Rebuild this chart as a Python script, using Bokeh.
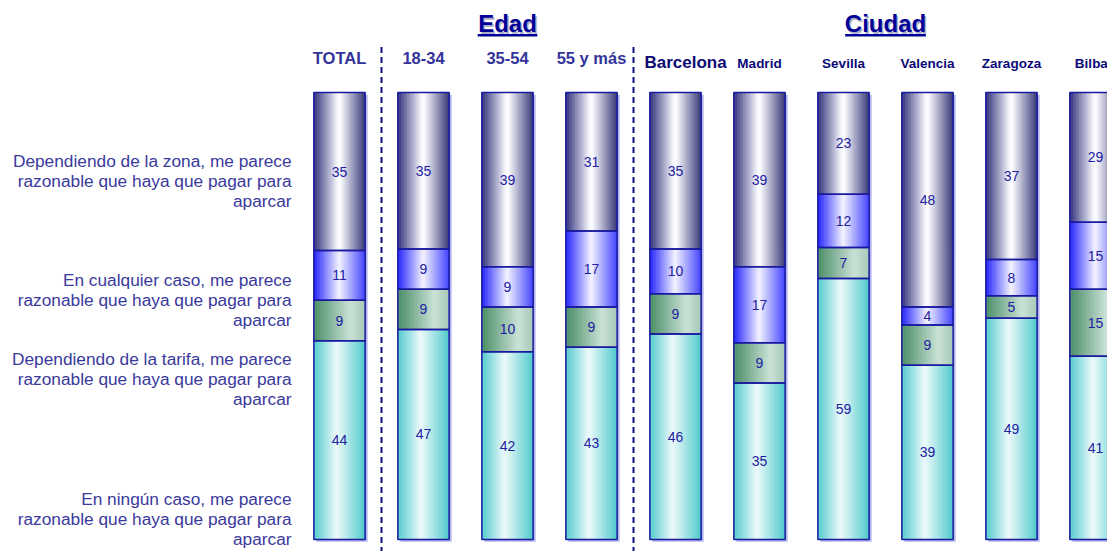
import numpy as np
from bokeh.plotting import figure
from bokeh.models import Range1d
from bokeh.core.properties import value
from bokeh.embed import file_html
from bokeh.resources import INLINE

# ---------------- data ----------------
categories = ["TOTAL", "18-34", "35-54", "55 y más", "Barcelona", "Madrid",
              "Sevilla", "Valencia", "Zaragoza", "Bilbao"]
group_names = ["", "Edad", "Ciudad"]
group_sizes = [1, 3, 6]

# series, bottom to top
ningun = [44, 47, 42, 43, 46, 35, 59, 39, 49, 41]
tarifa = [9, 9, 10, 9, 9, 9, 7, 9, 5, 15]
cualquier = [11, 9, 9, 17, 10, 17, 12, 4, 8, 15]
zona = [35, 35, 39, 31, 35, 39, 23, 48, 37, 29]

series_labels = [
    "En ningún caso, me parece\nrazonable que haya que pagar para\naparcar",
    "Dependiendo de la tarifa, me parece\nrazonable que haya que pagar para\naparcar",
    "En cualquier caso, me parece\nrazonable que haya que pagar para\naparcar",
    "Dependiendo de la zona, me parece\nrazonable que haya que pagar para\naparcar",
]

# ---------------- styles ----------------
gradients = [
    [(0.0, (0x50, 0xcc, 0xcc)), (0.45, (0xf0, 0xfc, 0xfc)), (1.0, (0x50, 0xcc, 0xcc))],
    [(0.0, (0x48, 0x8e, 0x64)), (0.72, (0xcc, 0xe3, 0xd6)), (1.0, (0xa6, 0xcb, 0xb6))],
    [(0.0, (0x20, 0x20, 0xff)), (0.5, (0xf6, 0xf6, 0xff)), (1.0, (0x44, 0x44, 0xff))],
    [(0.0, (0x2c, 0x2c, 0x7a)), (0.47, (0xfc, 0xfc, 0xff)), (0.53, (0xfc, 0xfc, 0xff)), (1.0, (0x3a, 0x3a, 0x78))],
]
label_y = [4.5, 35.8, 53.5, 80.3]   # legend text vertical positions (axis units)
BAR_W = 0.61
NSTRIP = 32
FONT = "Liberation Sans"
W, H = 1107, 551
PX_X = 84.0     # pixels per category
PX_Y = 4.47     # pixels per percent
X0 = -339.0 / PX_X
Y1 = 539.0 / PX_Y


def grad_color(stops, t):
    for (p0, c0), (p1, c1) in zip(stops[:-1], stops[1:]):
        if p0 <= t <= p1:
            f = (t - p0) / (p1 - p0) if p1 > p0 else 0
            c = [int(round(a + (b - a) * f)) for a, b in zip(c0, c1)]
            return "#%02x%02x%02x" % tuple(c)
    return "#%02x%02x%02x" % stops[-1][1]


series = [ningun, tarifa, cualquier, zona]
n = len(categories)
xs = np.arange(n, dtype=float)
totals = np.sum(np.array(series, dtype=float), axis=0)

p = figure(width=W, height=H,
           x_range=Range1d(X0, X0 + W / PX_X), y_range=Range1d(Y1 - H / PX_Y, Y1),
           output_backend="svg", toolbar_location=None, min_border=0,
           x_axis_location=None, y_axis_location=None)
p.grid.visible = False
p.outline_line_color = None
p.background_fill_color = "white"
p.border_fill_color = "white"

# stacking (percent of each column)
bottoms = []
tops = []
cum = np.zeros(n)
for s in series:
    frac = np.array(s, dtype=float) / totals * 100.0
    bottoms.append(cum.copy())
    cum = cum + frac
    tops.append(cum.copy())

# bar shadow
p.quad(left=xs - BAR_W / 2 + 0.03, right=xs + BAR_W / 2 + 0.03,
       bottom=bottoms[0] - 0.5, top=tops[-1] - 0.5,
       fill_color="#b4b4ec", line_color=None)

# gradient strips
L, R, B, T, C = [], [], [], [], []
dw = BAR_W / NSTRIP
for si, s in enumerate(series):
    for k in range(NSTRIP):
        t = (k + 0.5) / NSTRIP
        col = grad_color(gradients[si], t)
        for i in range(n):
            left = xs[i] - BAR_W / 2 + k * dw
            L.append(left)
            R.append(left + dw)
            B.append(bottoms[si][i])
            T.append(tops[si][i])
            C.append(col)
p.quad(left=L, right=R, bottom=B, top=T, fill_color=C, line_color=C, line_width=0.6)

# segment outlines and values
for si, s in enumerate(series):
    p.quad(left=xs - BAR_W / 2, right=xs + BAR_W / 2, bottom=bottoms[si], top=tops[si],
           fill_alpha=0, line_color="#1818a0", line_width=1.5)
    p.text(x=xs, y=(bottoms[si] + tops[si]) / 2, text=[str(v) for v in s],
           text_align="center", text_baseline="middle",
           text_font=value(FONT), text_font_size="14px", text_color="#2222a0")

# legend-like labels on the left
p.text(x=[-0.571] * len(series_labels), y=label_y, text=series_labels,
       text_align="right", text_baseline="middle", text_line_height=1.0,
       text_font=value(FONT), text_font_size="17.3px", text_color="#3a3a9c")

# group separators and titles
bounds = np.cumsum(group_sizes)
sep_x = [b - 0.5 for b in bounds[:-1]]
p.segment(x0=sep_x, x1=sep_x, y0=[-3] * len(sep_x), y1=[110.8] * len(sep_x),
          line_color="#101080", line_width=2, line_dash="6 4")

starts = np.concatenate([[0], bounds[:-1]])
g_names, g_x = [], []
for name, s0, sz in zip(group_names, starts, group_sizes):
    if name:
        g_names.append(name)
        g_x.append(s0 + (sz - 1) / 2)
half_w = [0.355, 0.48]
p.text(x=g_x, y=[115.4] * len(g_x), text=g_names, x_offset=1.5, y_offset=1.5,
       text_align="center", text_baseline="middle", text_font=value(FONT),
       text_font_size="24px", text_font_style="bold", text_color="#b0b0c8")
p.text(x=g_x, y=[115.4] * len(g_x), text=g_names,
       text_align="center", text_baseline="middle", text_font=value(FONT),
       text_font_size="24px", text_font_style="bold", text_color="#000099")
p.segment(x0=[x - h for x, h in zip(g_x, half_w)], x1=[x + h for x, h in zip(g_x, half_w)],
          y0=[112.8] * len(g_x), y1=[112.8] * len(g_x),
          line_color="#000099", line_width=2.5)

# column headers
age_idx = list(range(0, 4))
p.text(x=xs[age_idx], y=[107.8] * len(age_idx), text=[categories[i] for i in age_idx],
       text_align="center", text_baseline="middle", text_font=value(FONT),
       text_font_size="16.5px", text_font_style="bold", text_color="#333399")
p.text(x=[xs[4] + 0.12], y=[106.7], text=[categories[4]],
       text_align="center", text_baseline="middle", text_font=value(FONT),
       text_font_size="17px", text_font_style="bold", text_color="#0a0a70")
city_idx = list(range(5, n))
p.text(x=xs[city_idx], y=[106.5] * len(city_idx), text=[categories[i] for i in city_idx],
       text_align="center", text_baseline="middle", text_font=value(FONT),
       text_font_size="13.5px", text_font_style="bold", text_color="#0a0a78")

open("out.html", "w").write(file_html(p, INLINE))
